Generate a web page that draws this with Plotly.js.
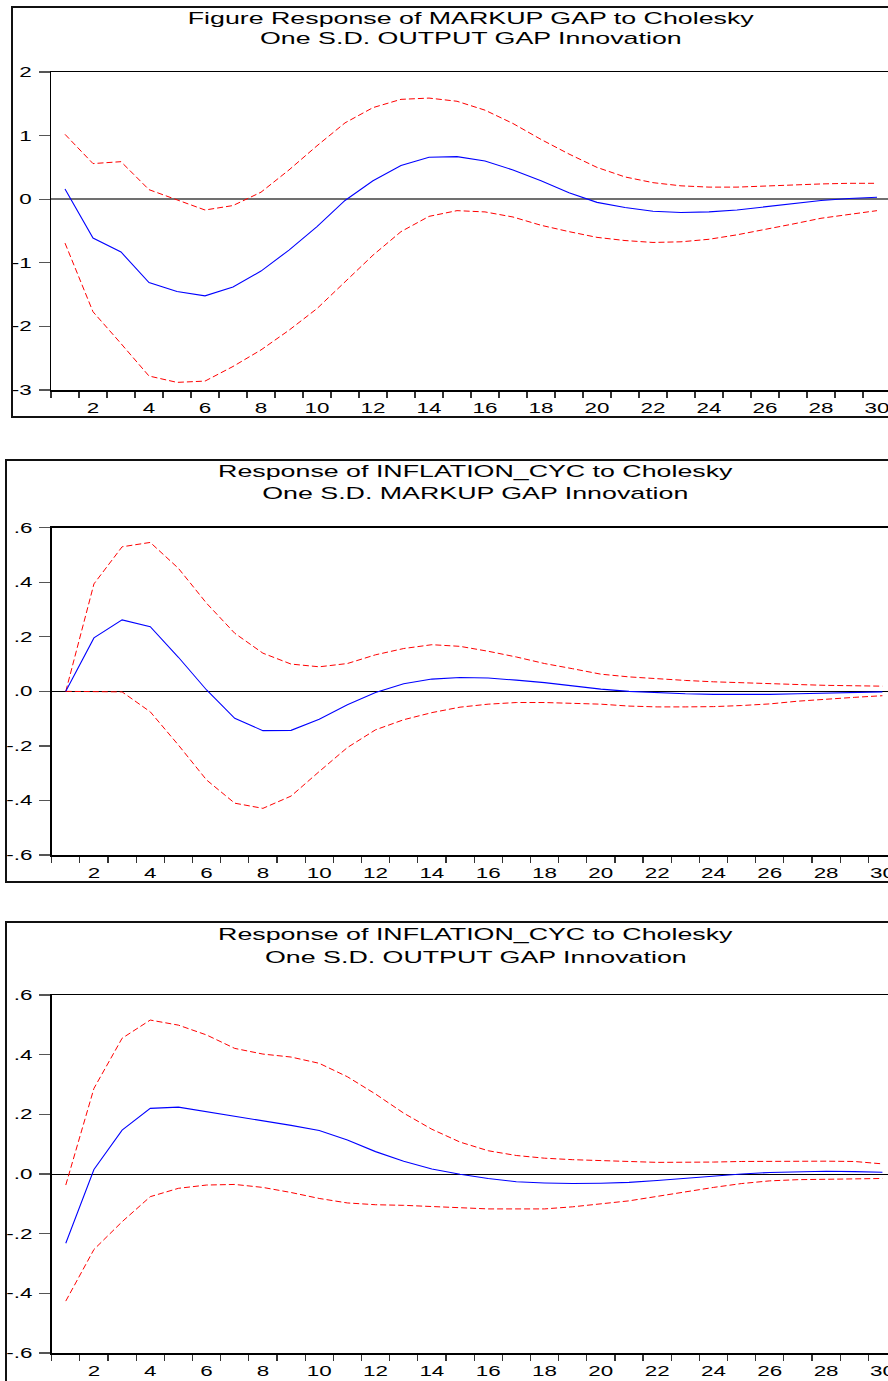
<!DOCTYPE html>
<html>
<head>
<meta charset="utf-8">
<script src="https://cdn.plot.ly/plotly-3.0.1.min.js"></script>
<style>
html, body { margin: 0; padding: 0; background: #fff; overflow: hidden; }
#chart { width: 900px; height: 1381px; }
</style>
</head>
<body>
<div id="chart"></div>
<script>
// ---- data ----
const periods = [1,2,3,4,5,6,7,8,9,10,11,12,13,14,15,16,17,18,19,20,21,22,23,24,25,26,27,28,29,30];
const xTickVals = [2,4,6,8,10,12,14,16,18,20,22,24,26,28,30];
const xTickText = ["2","4","6","8","10","12","14","16","18","20","22","24","26","28","30"];

// Panel 1: Response of MARKUP GAP to OUTPUT GAP
const title1 = ["Figure Response of MARKUP GAP to Cholesky", "One S.D. OUTPUT GAP Innovation"];
const resp1  = [0.16,-0.61,-0.83,-1.31,-1.45,-1.52,-1.38,-1.13,-0.80,-0.43,-0.02,0.29,0.53,0.66,0.67,0.60,0.46,0.29,0.10,-0.05,-0.13,-0.19,-0.21,-0.20,-0.17,-0.12,-0.07,-0.02,0.01,0.03];
const upper1 = [1.02,0.56,0.59,0.15,-0.01,-0.17,-0.10,0.11,0.46,0.84,1.20,1.44,1.57,1.59,1.54,1.40,1.19,0.94,0.71,0.50,0.35,0.26,0.21,0.19,0.19,0.21,0.23,0.24,0.25,0.25];
const lower1 = [-0.69,-1.77,-2.27,-2.78,-2.88,-2.86,-2.63,-2.37,-2.06,-1.72,-1.30,-0.88,-0.51,-0.27,-0.18,-0.20,-0.28,-0.41,-0.51,-0.60,-0.65,-0.68,-0.67,-0.63,-0.56,-0.48,-0.39,-0.30,-0.24,-0.18];
const yTickVals1 = [-3,-2,-1,0,1,2];
const yTickText1 = ["-3","-2","-1","0","1","2"];

// Panel 2: Response of INFLATION_CYC to MARKUP GAP
const title2 = ["Response of INFLATION_CYC to Cholesky", "One S.D. MARKUP GAP Innovation"];
const resp2  = [0.00,0.196,0.262,0.237,0.125,0.005,-0.099,-0.144,-0.143,-0.102,-0.049,-0.004,0.028,0.045,0.051,0.049,0.041,0.032,0.020,0.008,0.000,-0.005,-0.009,-0.011,-0.012,-0.011,-0.009,-0.007,-0.004,-0.002];
const upper2 = [0.00,0.394,0.530,0.546,0.451,0.323,0.213,0.140,0.100,0.090,0.102,0.134,0.157,0.171,0.165,0.147,0.126,0.102,0.083,0.063,0.053,0.046,0.040,0.035,0.031,0.028,0.025,0.022,0.020,0.019];
const lower2 = [0.00,0.000,-0.002,-0.075,-0.197,-0.325,-0.410,-0.429,-0.384,-0.294,-0.206,-0.141,-0.104,-0.078,-0.058,-0.047,-0.041,-0.041,-0.043,-0.047,-0.054,-0.057,-0.057,-0.056,-0.052,-0.046,-0.036,-0.028,-0.022,-0.016];

// Panel 3: Response of INFLATION_CYC to OUTPUT GAP
const title3 = ["Response of INFLATION_CYC to Cholesky", "One S.D. OUTPUT GAP Innovation"];
const resp3  = [-0.232,0.015,0.147,0.220,0.224,0.209,0.192,0.178,0.163,0.146,0.114,0.075,0.043,0.017,-0.001,-0.015,-0.026,-0.030,-0.032,-0.031,-0.028,-0.022,-0.014,-0.007,0.000,0.005,0.008,0.009,0.008,0.006];
const upper3 = [-0.037,0.287,0.455,0.516,0.499,0.466,0.421,0.402,0.392,0.371,0.326,0.268,0.204,0.150,0.107,0.078,0.062,0.053,0.048,0.044,0.042,0.039,0.039,0.040,0.042,0.043,0.043,0.043,0.042,0.034];
const lower3 = [-0.426,-0.253,-0.160,-0.076,-0.048,-0.037,-0.035,-0.045,-0.062,-0.082,-0.097,-0.103,-0.105,-0.108,-0.113,-0.117,-0.118,-0.117,-0.110,-0.100,-0.090,-0.075,-0.059,-0.045,-0.032,-0.023,-0.019,-0.017,-0.015,-0.015];
const yTickVals23 = [-0.6,-0.4,-0.2,0,0.2,0.4,0.6];
const yTickText23 = ["-.6","-.4","-.2",".0",".2",".4",".6"];

// ---- layout helpers ----
const W = 900, H = 1381;
const FONT = "Liberation Sans, Arial, Helvetica, sans-serif";
const px = v => v / W;
const py = v => 1 - v / H;
const boundaries = periods.map(p => p - 0.5).concat([periods[periods.length - 1] + 0.5]);

function traces(xa, ya, lower, resp, upper) {
  return [
    {x: periods, y: upper, xaxis: xa, yaxis: ya, type: "scatter", mode: "lines",
     line: {color: "#ff0000", width: 1, dash: "6px,3px"}, hoverinfo: "skip"},
    {x: periods, y: lower, xaxis: xa, yaxis: ya, type: "scatter", mode: "lines",
     line: {color: "#ff0000", width: 1, dash: "6px,3px"}, hoverinfo: "skip"},
    {x: periods, y: resp, xaxis: xa, yaxis: ya, type: "scatter", mode: "lines",
     line: {color: "#0000ff", width: 1.1}, hoverinfo: "skip"}
  ];
}

function xAxis(dom, anchor) {
  return {
    domain: dom, anchor: anchor, range: [0.5, 30.5], fixedrange: true,
    tickmode: "array", tickvals: xTickVals, ticktext: xTickText, ticks: "",
    ticklabelstandoff: 5,
    minor: {tickmode: "array", tickvals: boundaries, ticks: "outside", ticklen: 6, tickwidth: 1.2, tickcolor: "#333", showgrid: false},
    showgrid: false, zeroline: false, showline: true, linecolor: "#000", linewidth: 1.5, mirror: true,
    tickfont: {family: FONT, size: 14, color: "#000"}
  };
}

function yAxis(dom, anchor, range, vals, text, zc, zw) {
  return {
    domain: dom, anchor: anchor, range: range, fixedrange: true,
    tickmode: "array", tickvals: vals, ticktext: text, ticks: "outside", ticklen: 11,
    tickwidth: 1.2, tickcolor: "#555", ticklabelstandoff: 4,
    showgrid: false, zeroline: true, zerolinecolor: zc, zerolinewidth: zw,
    showline: true, linecolor: "#000", linewidth: 1.5, mirror: true,
    tickfont: {family: FONT, size: 14, color: "#000"}
  };
}

function titleAnn(text, cx, cy) {
  return {text: text, xref: "paper", yref: "paper", x: px(cx), y: py(cy),
          xanchor: "center", yanchor: "middle", showarrow: false,
          font: {family: FONT, size: 17, color: "#000"}};
}

function frame(x0, y0, y1) {
  return {type: "rect", xref: "paper", yref: "paper", x0: px(x0), x1: 1.1, y0: py(y1), y1: py(y0),
          line: {color: "#111", width: 2}, fillcolor: "rgba(0,0,0,0)"};
}

const data = [].concat(
  traces("x", "y", lower1, resp1, upper1),
  traces("x2", "y2", lower2, resp2, upper2),
  traces("x3", "y3", lower3, resp3, upper3)
);

const layout = {
  width: W, height: H, autosize: false, showlegend: false,
  margin: {l: 0, r: 0, t: 0, b: 0, pad: 0},
  paper_bgcolor: "#fff", plot_bgcolor: "#fff",
  xaxis:  xAxis([px(51), px(891)], "y"),
  yaxis:  yAxis([py(390), py(72)], "x", [-3, 2], yTickVals1, yTickText1, "#707070", 2),
  xaxis2: xAxis([px(51.7), px(896.5)], "y2"),
  yaxis2: yAxis([py(855), py(527.7)], "x2", [-0.6, 0.6], yTickVals23, yTickText23, "#000", 1),
  xaxis3: xAxis([px(51.7), px(896.5)], "y3"),
  yaxis3: yAxis([py(1353), py(995)], "x3", [-0.6, 0.6], yTickVals23, yTickText23, "#000", 1),
  shapes: [frame(12, 7, 417), frame(6, 460, 882), frame(6, 922, 1420)],
  annotations: [
    titleAnn(title1[0], 471.5, 18), titleAnn(title1[1], 471.5, 38.7),
    titleAnn(title2[0], 476, 471.7), titleAnn(title2[1], 476, 493.3),
    titleAnn(title3[0], 476, 934.3), titleAnn(title3[1], 476, 957)
  ]
};

function stretchText(gd) {
  const sel = gd.querySelectorAll(
    ".xtick text, .x2tick text, .x3tick text, .ytick text, .y2tick text, .y3tick text, .annotation-text");
  sel.forEach(el => {
    try {
      const isAnn = el.classList.contains("annotation-text");
      const f = isAnn ? 1.575 : 1.6;
      const w = el.getComputedTextLength();
      if (w > 0) {
        el.setAttribute("textLength", (w * f).toFixed(2));
        el.setAttribute("lengthAdjust", "spacingAndGlyphs");
      }
    } catch (e) {}
  });
}

const gd = document.getElementById("chart");
Plotly.newPlot(gd, data, layout, {staticPlot: true, displayModeBar: false}).then(() => stretchText(gd));
</script>
</body>
</html>
